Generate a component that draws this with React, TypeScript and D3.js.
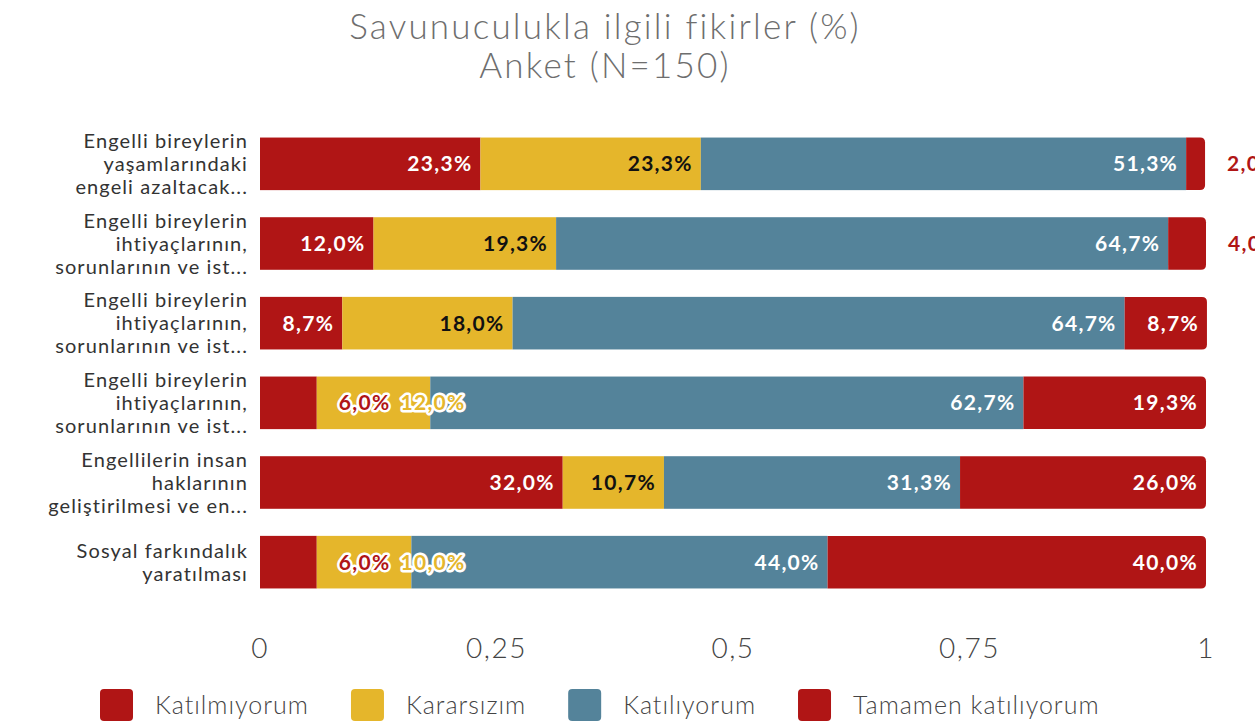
import React, { useEffect, useRef } from "react";
import * as d3 from "d3";

const categories: string[][] = [
  ["Engelli bireylerin", "yaşamlarındaki", "engeli azaltacak..."],
  ["Engelli bireylerin", "ihtiyaçlarının,", "sorunlarının ve ist..."],
  ["Engelli bireylerin", "ihtiyaçlarının,", "sorunlarının ve ist..."],
  ["Engelli bireylerin", "ihtiyaçlarının,", "sorunlarının ve ist..."],
  ["Engellilerin insan", "haklarının", "geliştirilmesi ve en..."],
  ["Sosyal farkındalık", "yaratılması"],
];

const seriesNames = ["Katılmıyorum", "Kararsızım", "Katılıyorum", "Tamamen katılıyorum"];
const katilmiyorum = [23.3, 12.0, 8.7, 6.0, 32.0, 6.0];
const kararsizim = [23.3, 19.3, 18.0, 12.0, 10.7, 10.0];
const katiliyorum = [51.3, 64.7, 64.7, 62.7, 31.3, 44.0];
const tamamen = [2.0, 4.0, 8.7, 19.3, 26.0, 40.0];
const tickValues = [0, 0.25, 0.5, 0.75, 1];
const tickLabels = ["0", "0,25", "0,5", "0,75", "1"];

const colors = ["#B01515", "#E5B62B", "#54839A", "#B01515"];
const labelColors = ["#ffffff", "#111111", "#ffffff", "#ffffff"];
const FONT = "Lato, 'Open Sans', sans-serif";

export default function App() {
  const ref = useRef<SVGSVGElement>(null);

  useEffect(() => {
    const svg = d3.select(ref.current);
    svg.selectAll("*").remove();
    const W = 1255, H = 723;
    const x = d3.scaleLinear().domain([0, 1]).range([260, 1206]);
    const y = d3.scaleBand<number>().domain(d3.range(categories.length)).range([124, 602]).paddingInner(0.34).paddingOuter(0.17);
    const series = [katilmiyorum, kararsizim, katiliyorum, tamamen];

    // title
    const title = svg.append("text").attr("text-anchor", "middle")
      .attr("font-family", FONT).attr("font-weight", 300).attr("fill", "#6e6e6e")
      .attr("font-size", 35).attr("letter-spacing", 2.2);
    title.append("tspan").attr("x", 605).attr("y", 39).text("Savunuculukla ilgili fikirler (%)");
    title.append("tspan").attr("x", 605).attr("y", 78).text("Anket (N=150)");

    // category labels
    categories.forEach((lines, i) => {
      const cy = (y(i) as number) + y.bandwidth() / 2;
      const lh = 23;
      const t = svg.append("text").attr("text-anchor", "end").attr("font-family", FONT)
        .attr("font-size", 20).attr("letter-spacing", 1.1).attr("fill", "#333");
      lines.forEach((ln, k) => {
        t.append("tspan").attr("x", 248)
          .attr("y", cy + (k - (lines.length - 1) / 2) * lh).attr("dy", "0.35em").text(ln);
      });
    });

    // bars
    const gBars = svg.append("g");
    const gLabels = svg.append("g");
    categories.forEach((_, i) => {
      const by = y(i) as number;
      const bh = y.bandwidth();
      let cum = 0;
      const segs = series.map((s, j) => {
        const v = s[i] / 100;
        const seg = { j, x0: x(cum), x1: x(cum + v), v: s[i] };
        cum += v;
        return seg;
      });
      segs.forEach((sg) => {
        const w = sg.x1 - sg.x0;
        if (sg.j === 3) {
          const r = 5;
          const p = `M${sg.x0},${by}H${sg.x1 - r}Q${sg.x1},${by} ${sg.x1},${by + r}V${by + bh - r}Q${sg.x1},${by + bh} ${sg.x1 - r},${by + bh}H${sg.x0}Z`;
          gBars.append("path").attr("d", p).attr("fill", colors[sg.j]);
        } else {
          gBars.append("rect").attr("x", sg.x0).attr("y", by).attr("width", w).attr("height", bh).attr("fill", colors[sg.j]);
        }
      });
      // labels with simple collision handling
      let prevRight = -Infinity;
      segs.forEach((sg) => {
        const txt = d3.format(".1f")(sg.v).replace(".", ",") + "%";
        const t = gLabels.append("text").attr("font-family", FONT).attr("font-weight", 700)
          .attr("font-size", 21).attr("letter-spacing", 1.3)
          .attr("y", by + bh / 2).attr("dy", "0.35em").text(txt);
        const tw = (t.node() as SVGTextElement).getComputedTextLength();
        const w = sg.x1 - sg.x0;
        let left: number;
        let outside = false;
        if (w >= tw + 12) {
          left = sg.x1 - 8 - tw;
        } else {
          left = sg.x1 + 22;
          outside = true;
        }
        if (left < prevRight + 10) {
          left = prevRight + 10;
          outside = true;
        }
        prevRight = left + tw;
        t.attr("x", left);
        if (outside) {
          t.attr("fill", colors[sg.j]).attr("stroke", "#ffffff").attr("stroke-width", 5)
            .attr("stroke-linejoin", "round").attr("paint-order", "stroke");
        } else {
          t.attr("fill", labelColors[sg.j]);
        }
      });
    });

    // axis labels
    tickValues.forEach((tv, k) => {
      svg.append("text").attr("x", x(tv)).attr("y", 648).attr("dy", "0.35em")
        .attr("text-anchor", "middle").attr("font-family", FONT).attr("font-weight", 300)
        .attr("font-size", 28).attr("letter-spacing", 1.5).attr("fill", "#444").text(tickLabels[k]);
    });

    // legend
    const lg = svg.append("g");
    let lx = 100;
    seriesNames.forEach((nm, k) => {
      lg.append("rect").attr("x", lx).attr("y", 689).attr("width", 33).attr("height", 32)
        .attr("rx", 4).attr("fill", colors[k]);
      const t = lg.append("text").attr("x", lx + 55).attr("y", 705).attr("dy", "0.35em")
        .attr("font-family", FONT).attr("font-weight", 300).attr("font-size", 25)
        .attr("letter-spacing", 1).attr("fill", "#444").text(nm);
      const tw = (t.node() as SVGTextElement).getComputedTextLength();
      lx = lx + 55 + tw + 42;
    });
    svg.attr("width", W).attr("height", H);
  }, []);

  return (
    <svg ref={ref} width={1255} height={723}
      style={{ position: "absolute", left: 0, top: 0, background: "#fff" }} />
  );
}
